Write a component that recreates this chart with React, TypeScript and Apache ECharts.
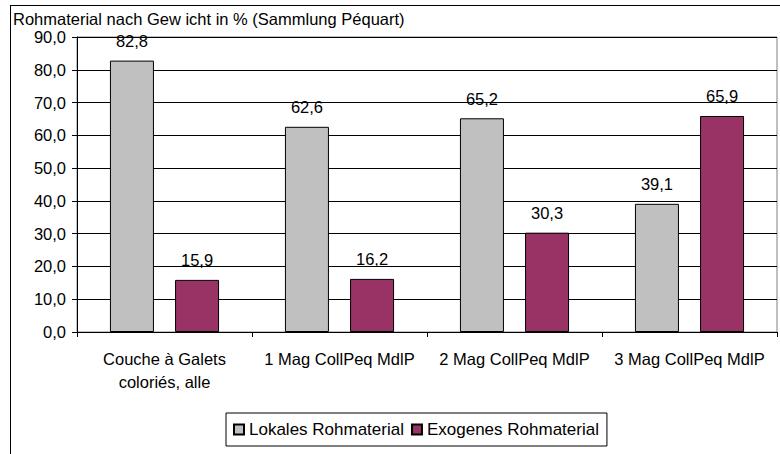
import React, { useEffect, useRef } from "react";
import * as echarts from "echarts";

const categories = [
  "Couche à Galets\ncoloriés, alle",
  "1 Mag CollPeq MdlP",
  "2 Mag CollPeq MdlP",
  "3 Mag CollPeq MdlP",
];
const lokales = [82.8, 62.6, 65.2, 39.1];
const exogenes = [15.9, 16.2, 30.3, 65.9];
const seriesNames = ["Lokales Rohmaterial", "Exogenes Rohmaterial"];
const titleText = "Rohmaterial nach Gew icht in % (Sammlung Péquart)";

const FONT = "'Liberation Sans', Arial, sans-serif";
const comma = (v: number) => v.toFixed(1).replace(".", ",");

export default function App() {
  const ref = useRef<HTMLDivElement>(null);
  useEffect(() => {
    if (!ref.current) return;
    const chart = echarts.init(ref.current, null, { renderer: "svg" });
    const labelCfg = {
      show: true,
      position: "top" as const,
      distance: 11,
      color: "#000",
      fontSize: 16.5,
      fontFamily: FONT,
      formatter: (p: any) => comma(p.value),
    };
    chart.setOption({
      animation: false,
      backgroundColor: "#fff",
      textStyle: { fontFamily: FONT, color: "#000" },
      title: {
        text: titleText,
        left: 13,
        top: 10,
        padding: 0,
        textStyle: { fontSize: 16.5, fontWeight: "normal", color: "#000", fontFamily: FONT },
      },
      graphic: [
        { type: "line", shape: { x1: 10, y1: 5.5, x2: 780, y2: 5.5 }, style: { stroke: "#000", lineWidth: 1 } },
        { type: "line", shape: { x1: 10.5, y1: 5, x2: 10.5, y2: 454 }, style: { stroke: "#000", lineWidth: 1 } },
      ],
      grid: {
        left: 77,
        right: 3,
        top: 37,
        bottom: 122,
        show: true,
        borderColor: "#808080",
        borderWidth: 1,
        containLabel: false,
      },
      legend: {
        data: seriesNames,
        left: 226,
        top: 413,
        orient: "horizontal",
        itemWidth: 10,
        itemHeight: 10,
        itemGap: 7,
        padding: [8, 8, 8, 7],
        borderColor: "#000",
        borderWidth: 1,
        icon: "rect",
        textStyle: { fontSize: 17, color: "#000", fontFamily: FONT },
      },
      xAxis: {
        type: "category",
        data: categories,
        axisLine: { lineStyle: { color: "#000", width: 1 } },
        axisTick: { show: true, length: 5, lineStyle: { color: "#000" } },
        axisLabel: {
          color: "#000",
          fontSize: 16.5,
          fontFamily: FONT,
          margin: 15,
          lineHeight: 23,
          interval: 0,
        },
        splitLine: { show: false },
      },
      yAxis: {
        type: "value",
        min: 0,
        max: 90,
        interval: 10,
        axisLine: { show: true, lineStyle: { color: "#000", width: 1 } },
        axisTick: { show: true, length: 5, lineStyle: { color: "#000" } },
        axisLabel: {
          color: "#000",
          fontSize: 16.5,
          fontFamily: FONT,
          margin: 11,
          formatter: (v: number) => comma(v),
        },
        splitLine: { show: true, lineStyle: { color: "#000", width: 1 } },
      },
      series: [
        {
          name: seriesNames[0],
          type: "bar",
          data: lokales,
          barWidth: 44,
          barGap: "48%",
          itemStyle: { color: "#C0C0C0", borderColor: "#000", borderWidth: 1 },
          label: labelCfg,
        },
        {
          name: seriesNames[1],
          type: "bar",
          data: exogenes,
          barWidth: 44,
          itemStyle: { color: "#993366", borderColor: "#000", borderWidth: 1 },
          label: labelCfg,
        },
      ],
    });
    return () => chart.dispose();
  }, []);
  return (
    <div
      ref={ref}
      style={{ position: "absolute", left: 0, top: 0, width: 780, height: 454 }}
    />
  );
}
